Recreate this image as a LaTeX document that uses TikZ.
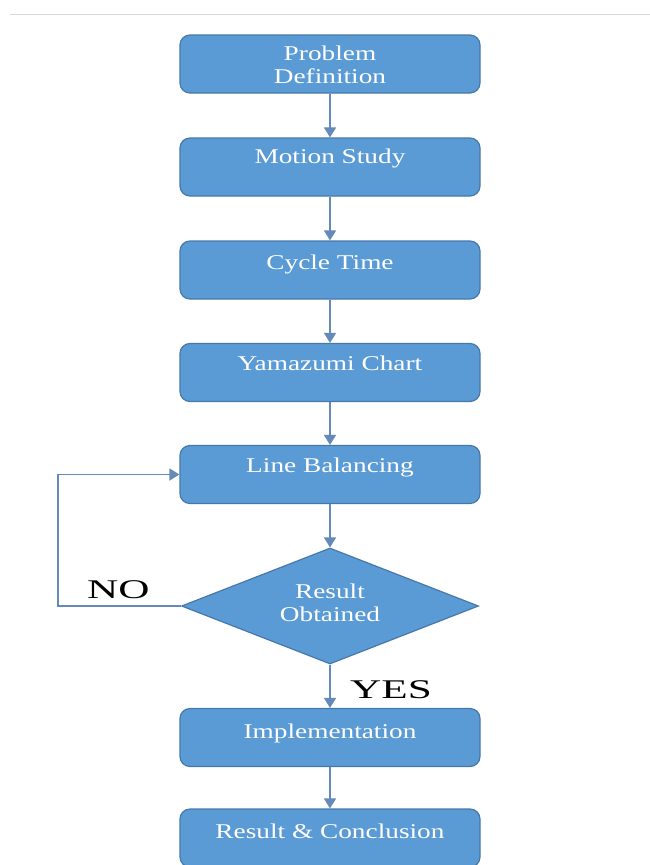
\documentclass[tikz,border=0pt]{standalone}
\usepackage{fontspec}
\setmainfont{Liberation Serif}
\newfontfamily\boxfont[FakeStretch=1.3]{Liberation Serif}
\newfontfamily\labfont[FakeStretch=1.6]{Liberation Serif}
\usetikzlibrary{shapes.geometric,arrows.meta}
\definecolor{boxfill}{RGB}{91,155,213}
\definecolor{boxline}{RGB}{70,120,170}
\definecolor{conn}{RGB}{100,138,185}
\tikzset{
  stepbox/.style={draw=boxline, line width=1.2pt, fill=boxfill, rounded corners=10pt,
    minimum width=300pt, minimum height=58pt, inner sep=0pt},
  decbox/.style={diamond, draw=boxline, line width=1.2pt, fill=boxfill,
    minimum width=297pt, minimum height=116pt, inner sep=0pt, aspect=2.56},
  boxtext/.style={text=white, font=\boxfont\fontsize{21}{23}\selectfont, anchor=base, align=center, inner sep=0pt},
  lab/.style={text=black, font=\labfont\fontsize{27}{30}\selectfont, anchor=base west, inner sep=0pt},
  flow/.style={draw=conn, line width=1.6pt, -{Triangle[length=10pt,width=12pt]}}
}
\begin{document}
\begin{tikzpicture}[x=1pt,y=-1pt]
\useasboundingbox (0,0) rectangle (650,865);
\fill[white] (0,0) rectangle (650,865);
\draw[black!15, line width=0.8pt] (10,14) -- (650,14);

\node[stepbox] (b1) at (330,64) {};
\node[stepbox] (b2) at (330,167) {};
\node[stepbox] (b3) at (330,270) {};
\node[stepbox] (b4) at (330,372.5) {};
\node[stepbox] (b5) at (330,474.5) {};
\node[decbox] (d) at (330,606) {};
\node[stepbox] (b6) at (330,737.5) {};
\node[stepbox] (b7) at (330,838) {};

\node[boxtext] (t1) at (330,83) {Problem\\Definition};
\node[boxtext] (t2) at (330,163) {Motion Study};
\node[boxtext] (t3) at (330,269) {Cycle Time};
\node[boxtext] (t4) at (330,370) {Yamazumi Chart};
\node[boxtext] (t5) at (330,472) {Line Balancing};
\node[boxtext] (td) at (330,621) {Result\\Obtained};
\node[boxtext] (t6) at (330,738) {Implementation};
\node[boxtext] (t7) at (330,838) {Result \& Conclusion};

\node[lab] (no) at (87,598) {NO};
\node[lab] (yes) at (350,698) {YES};

\coordinate (lb) at (58,606);
\coordinate (lt) at (58,474.5);

\draw[flow] (b1.south) -- (b2.north);
\draw[flow] (b2.south) -- (b3.north);
\draw[flow] (b3.south) -- (b4.north);
\draw[flow] (b4.south) -- (b5.north);
\draw[flow] (b5.south) -- (d.north);
\draw[flow] (d.south) -- (b6.north);
\draw[flow] (b6.south) -- (b7.north);
\draw[flow] (d.west) -- (lb) -- (lt) -- (b5.west);
\end{tikzpicture}
\end{document}
